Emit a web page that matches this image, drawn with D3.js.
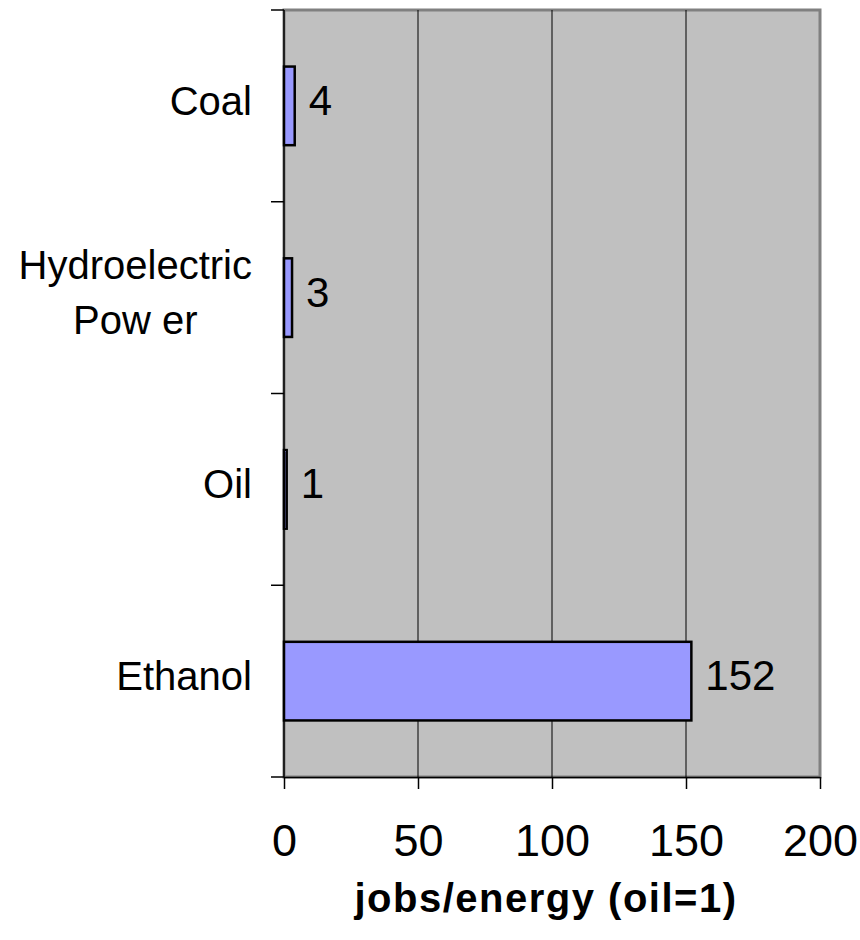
<!DOCTYPE html>
<html>
<head>
<meta charset="utf-8">
<script src="https://cdn.jsdelivr.net/npm/d3@7"></script>
<style>
  html, body { margin: 0; padding: 0; background: #fff; }
  svg { display: block; font-family: Arial, "Liberation Sans", sans-serif; }
</style>
</head>
<body>
<svg id="chart" width="860" height="940"></svg>
<script>
// Energy sources, listed top to bottom
const categories = ["Coal", "Hydroelectric Power", "Oil", "Ethanol"];
// Jobs per unit of energy, relative to oil
const jobsPerEnergy = [4, 3, 1, 152];
// Horizontal axis ticks
const xTicks = [0, 50, 100, 150, 200];
const xDomain = [0, 200];
const axisTitle = "jobs/energy (oil=1)";

const svg = d3.select("#chart");
const plot = { left: 284, right: 820, top: 10, bottom: 777 };

const x = d3.scaleLinear().domain(xDomain).range([plot.left, plot.right]);
const y = d3.scaleBand().domain(categories)
  .range([plot.top, plot.bottom])
  .paddingInner(0.59).paddingOuter(0.295);

// plot background with grey frame
svg.append("rect")
  .attr("x", plot.left).attr("y", plot.top)
  .attr("width", plot.right - plot.left).attr("height", plot.bottom - plot.top)
  .attr("fill", "#c0c0c0").attr("stroke", "#808080").attr("stroke-width", 3);

// vertical gridlines
svg.append("g").selectAll("line")
  .data(xTicks.filter(t => t > xDomain[0] && t < xDomain[1]))
  .join("line")
  .attr("x1", d => x(d)).attr("x2", d => x(d))
  .attr("y1", plot.top).attr("y2", plot.bottom)
  .attr("stroke", "#000").attr("stroke-width", 1);

// bars
svg.append("g").selectAll("rect")
  .data(categories)
  .join("rect")
  .attr("x", x(0))
  .attr("y", d => y(d))
  .attr("width", (d, i) => x(jobsPerEnergy[i]) - x(0))
  .attr("height", y.bandwidth())
  .attr("fill", "#9999ff").attr("stroke", "#000").attr("stroke-width", 2.5);

// value labels
svg.append("g").selectAll("text")
  .data(categories)
  .join("text")
  .attr("x", (d, i) => x(jobsPerEnergy[i]) + 14)
  .attr("y", d => y(d) + y.bandwidth() / 2 + 9)
  .attr("font-size", 42)
  .attr("fill", "#000")
  .text((d, i) => jobsPerEnergy[i]);

// x axis
const xAxis = svg.append("g")
  .attr("transform", `translate(0,${plot.bottom})`)
  .call(d3.axisBottom(x).tickValues(xTicks).tickSize(12).tickSizeOuter(0).tickPadding(10));
xAxis.select(".domain").attr("stroke", "#000").attr("stroke-width", 1.5);
xAxis.selectAll(".tick line").attr("stroke", "#000").attr("stroke-width", 1.5);
xAxis.selectAll(".tick text")
  .attr("font-size", 45).attr("fill", "#000")
  .attr("font-family", "Arial, 'Liberation Sans', sans-serif")
  .attr("dy", null).attr("y", 79);

// y axis: line with ticks at the band boundaries
const yBounds = d3.range(categories.length + 1).map(i => plot.top + i * y.step());
svg.append("line")
  .attr("x1", plot.left).attr("x2", plot.left)
  .attr("y1", plot.top).attr("y2", plot.bottom)
  .attr("stroke", "#000").attr("stroke-width", 1.5);
svg.append("g").selectAll("line")
  .data(yBounds)
  .join("line")
  .attr("x1", plot.left - 13).attr("x2", plot.left)
  .attr("y1", d => d).attr("y2", d => d)
  .attr("stroke", "#000").attr("stroke-width", 1.5);

// category labels, centred per line and right-aligned as a block
const catG = svg.append("g");
categories.forEach(c => {
  const words = c === "Hydroelectric Power" ? ["Hydroelectric", "Pow er"] : [c];
  const t = catG.append("text")
    .attr("font-size", 40).attr("fill", "#000").attr("text-anchor", "middle");
  const lineH = 55;
  const cy = y(c) + y.bandwidth() / 2;
  words.forEach((w, i) => {
    t.append("tspan")
      .attr("y", cy + 9 + (i - (words.length - 1) / 2) * lineH)
      .text(w);
  });
  const tspans = t.selectAll("tspan").nodes();
  const maxW = d3.max(tspans, n => n.getComputedTextLength());
  t.selectAll("tspan").attr("x", 252 - maxW / 2);
});

// axis title
svg.append("text")
  .attr("x", (plot.left + plot.right) / 2 - 6)
  .attr("y", 912)
  .attr("text-anchor", "middle")
  .attr("font-size", 40).attr("font-weight", "bold")
  .attr("letter-spacing", 1.5)
  .attr("fill", "#000")
  .text(axisTitle);
</script>
</body>
</html>
